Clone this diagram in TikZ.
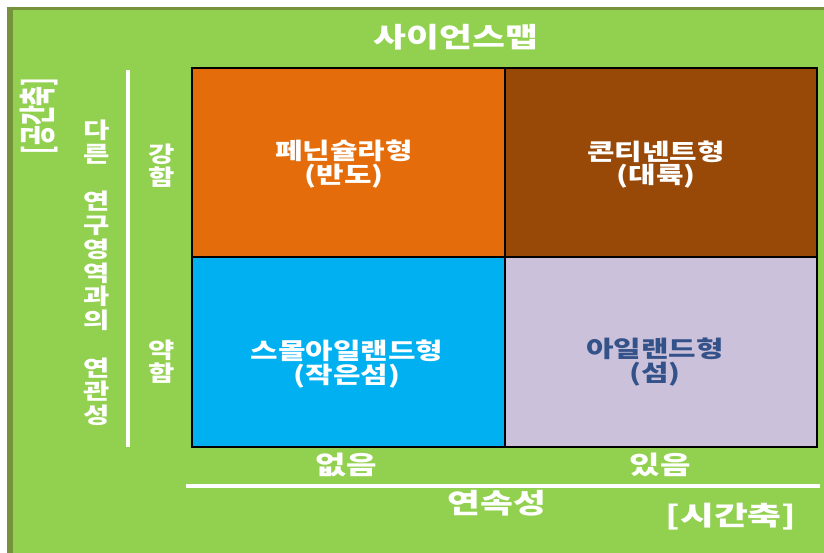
\documentclass[tikz,border=0pt]{standalone}
\usepackage{fontspec}
\newfontfamily\kr{Noto Sans CJK KR}[FakeStretch=1.3]
\newfontfamily\krplain{Noto Sans CJK KR}
\definecolor{bggreen}{HTML}{92D050}
\definecolor{olivedark}{HTML}{76923C}
\definecolor{orng}{HTML}{E46C0A}
\definecolor{brwn}{HTML}{984807}
\definecolor{skyb}{HTML}{00B0F0}
\definecolor{lav}{HTML}{CCC1DA}
\definecolor{slate}{HTML}{34528A}
\begin{document}
\begin{tikzpicture}[x=1pt,y=-1pt,
  celltext/.style={text=white, inner sep=0pt, align=center,
    font=\kr\bfseries\fontsize{23}{23.5}\selectfont},
  axistext/.style={text=white, inner sep=0pt, align=center},
  stack/.style={text=white, inner sep=0pt, align=center,
    font=\kr\bfseries\fontsize{22}{23.75}\selectfont},
  whiteline/.style={draw=white, line width=4pt},
  gridline/.style={draw=black, line width=1.4pt}]
\useasboundingbox (0,0) rectangle (824,553);
\fill[white] (0,0) rectangle (824,553);
\fill[olivedark] (7,7) rectangle (824,553);
\fill[bggreen] (13,10) rectangle (824,553);
% cells
\fill[orng] (192,68) rectangle (505,257);
\fill[brwn] (505,68) rectangle (817,257);
\fill[skyb] (192,257) rectangle (505,447);
\fill[lav] (505,257) rectangle (817,447);
\draw[gridline] (192,68) rectangle (817,447);
\draw[gridline] (505,68) -- (505,447);
\draw[gridline] (192,257) -- (817,257);
% title
\node[axistext, font=\kr\bfseries\fontsize{27.5}{29}\selectfont] (title) at (456,37) {사이언스맵};
% cell texts
\node[celltext] (pen) at (344,164) {페닌슐라형\\(반도)};
\node[celltext] (con) at (656,164.5) {콘티넨트형\\(대륙)};
\node[celltext] (sml) at (347,364) {스몰아일랜드형\\(작은섬)};
\node[celltext, text=slate] (isl) at (655,362) {아일랜드형\\(섬)};
% left axis
\coordinate (vtop) at (128,70);
\coordinate (vbot) at (128,447);
\draw[whiteline] (vtop) -- (vbot);
\node[stack] (rel) at (97,273) {다\\른\\\mbox{}\\연\\구\\영\\역\\과\\의\\\mbox{}\\연\\관\\성};
\node[stack, font=\kr\bfseries\fontsize{22}{23}\selectfont] (strong) at (162,165.5) {강\\함};
\node[stack, font=\kr\bfseries\fontsize{22}{23}\selectfont] (weak) at (162,362) {약\\함};
\node[axistext, rotate=90] (space) at (38.5,116) {\resizebox*{77pt}{38pt}{\krplain\bfseries [공간축]}};
% bottom axis
\node[axistext, font=\kr\bfseries\fontsize{25.5}{26}\selectfont] (no) at (346,465) {없음};
\node[axistext, font=\kr\bfseries\fontsize{25.5}{26}\selectfont] (yes) at (660,465) {있음};
\coordinate (hl) at (186,486);
\coordinate (hr) at (820,486);
\draw[whiteline] (hl) -- (hr);
\node[axistext, font=\kr\bfseries\fontsize{27.5}{28}\selectfont] (cont) at (497,503) {연속성};
\node[axistext] (time) at (731,517) {\resizebox*{131pt}{27pt}{\krplain\bfseries [시간축]}};
\end{tikzpicture}
\end{document}
